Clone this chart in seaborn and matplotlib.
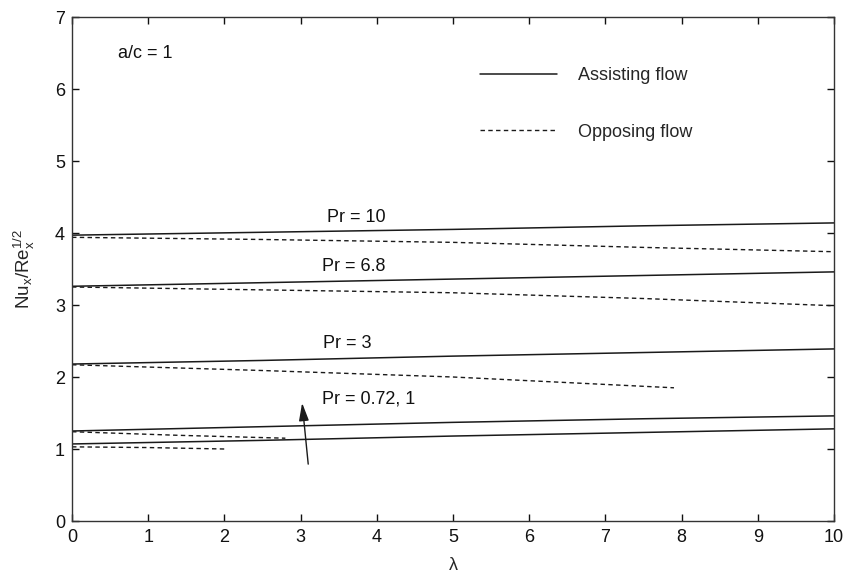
import numpy as np
import pandas as pd
import matplotlib
matplotlib.use("Agg")
import matplotlib.pyplot as plt
from matplotlib.lines import Line2D
import seaborn as sns

# ---- data ----
lam_full = [0, 2.5, 5, 7.5, 10]
pr10_assist = [3.97, 4.01, 4.05, 4.10, 4.14]
pr10_oppose = [3.94, 3.91, 3.87, 3.80, 3.74]
pr68_assist = [3.26, 3.31, 3.36, 3.41, 3.46]
pr68_oppose = [3.25, 3.21, 3.17, 3.09, 2.99]
pr3_assist = [2.18, 2.23, 2.29, 2.34, 2.39]
lam_pr3_opp = [0, 2.5, 5, 7.9]
pr3_oppose = [2.17, 2.09, 2.00, 1.85]
pr1_assist = [1.25, 1.31, 1.37, 1.42, 1.46]
lam_pr1_opp = [0, 1.4, 2.8]
pr1_oppose = [1.24, 1.19, 1.15]
pr072_assist = [1.07, 1.12, 1.18, 1.23, 1.28]
lam_pr072_opp = [0, 1.0, 2.0]
pr072_oppose = [1.03, 1.02, 1.00]

labels_pr = ["Pr = 10", "Pr = 6.8", "Pr = 3", "Pr = 0.72, 1"]
label_pos = [(3.35, 4.22), (3.28, 3.54), (3.30, 2.47), (3.28, 1.69)]
arrow_tail = (3.10, 0.79)
arrow_head = (3.02, 1.64)

sns.set_theme(style="ticks")
plt.rcParams["font.family"] = ["Liberation Sans", "DejaVu Sans"]
plt.rcParams["mathtext.default"] = "regular"

fig = plt.figure(figsize=(8.46, 5.74), dpi=100)
ax = fig.add_axes([72 / 846, 1 - 521 / 574, 762 / 846, 504 / 574])

line_col = "#1a1a1a"
dash = (0, (3.2, 2.4))

assist = [(lam_full, pr10_assist), (lam_full, pr68_assist), (lam_full, pr3_assist),
          (lam_full, pr1_assist), (lam_full, pr072_assist)]
oppose = [(lam_full, pr10_oppose), (lam_full, pr68_oppose), (lam_pr3_opp, pr3_oppose),
          (lam_pr1_opp, pr1_oppose), (lam_pr072_opp, pr072_oppose)]

for xs, ys in assist:
    sns.lineplot(x=xs, y=ys, ax=ax, color=line_col, linewidth=1.1, estimator=None)
for xs, ys in oppose:
    sns.lineplot(x=xs, y=ys, ax=ax, color=line_col, linewidth=1.0, linestyle=dash, estimator=None)

fs = 13
for lab, (x, y) in zip(labels_pr, label_pos):
    ax.text(x, y, lab, fontsize=fs, va="center", ha="left", color="#111111")

ax.annotate("", xy=arrow_head, xytext=arrow_tail,
            arrowprops=dict(arrowstyle="-|>,head_length=0.9,head_width=0.25",
                            color=line_col, lw=1.0, shrinkA=0, shrinkB=0))

ax.text(0.6, 6.5, "a/c = 1", fontsize=fs, va="center", ha="left", color="#111111")

handles = [Line2D([], [], color=line_col, lw=1.1),
           Line2D([], [], color=line_col, lw=1.0, linestyle=dash)]
leg = ax.legend(handles, ["Assisting flow", "Opposing flow"], loc="upper left",
                bbox_to_anchor=((480 - 72) / 762, (521 - 67) / 504), frameon=False,
                fontsize=fs, handlelength=4.26, handletextpad=1.16, labelspacing=2.2,
                borderpad=0, borderaxespad=0)

ax.set_xlim(0, 10)
ax.set_ylim(0, 7)
ax.set_xticks(range(0, 11))
ax.set_yticks(range(0, 8))
ax.tick_params(direction="in", length=5, width=1, top=True, right=True,
               labelsize=13, colors="#111111", pad=5)
ax.tick_params(axis="x", pad=6)
for sp in ax.spines.values():
    sp.set_visible(True)
    sp.set_color("#333333")
    sp.set_linewidth(1.0)

ax.set_xlabel("λ", fontsize=13, labelpad=8)
ax.set_ylabel("Nu$_x$/Re$_x^{1/2}$", fontsize=13.5, labelpad=13)

fig.savefig("out.png", dpi=100, facecolor="white")
